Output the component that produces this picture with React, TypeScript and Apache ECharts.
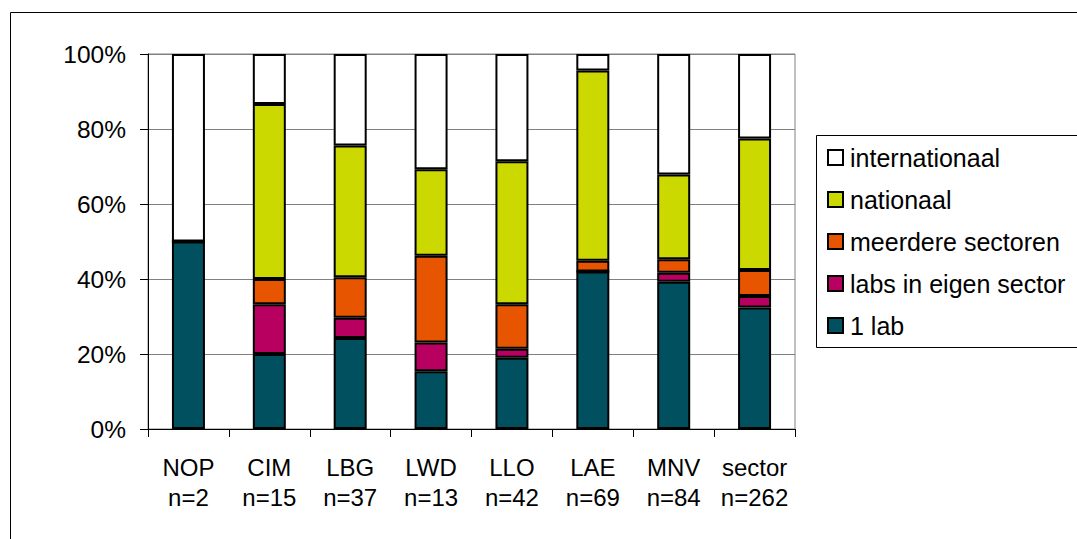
import React, { useEffect, useRef } from "react";
import * as echarts from "echarts";

const categories = ["NOP", "CIM", "LBG", "LWD", "LLO", "LAE", "MNV", "sector"];
const counts = ["n=2", "n=15", "n=37", "n=13", "n=42", "n=69", "n=84", "n=262"];

const oneLab = [50, 20, 24.3, 15.4, 19.0, 42.0, 39.3, 32.4];
const labsEigen = [0, 13.3, 5.4, 7.7, 2.4, 0, 2.4, 3.1];
const meerdere = [0, 6.7, 10.8, 23.1, 11.9, 2.9, 3.6, 6.9];
const nationaal = [0, 46.7, 35.1, 23.1, 38.1, 50.7, 22.6, 35.1];
const internationaal = [50, 13.3, 24.4, 30.7, 28.6, 4.4, 32.1, 22.5];

const yTicks = [0, 20, 40, 60, 80, 100];

const FONT = "'Liberation Sans', Arial, sans-serif";

export default function App() {
  const ref = useRef<HTMLDivElement>(null);
  useEffect(() => {
    document.body.style.margin = "0";
    const chart = echarts.init(ref.current!, undefined, { renderer: "svg" });
    const mk = (name: string, data: number[], color: string) => ({
      name,
      type: "bar",
      stack: "total",
      data,
      barWidth: 33,
      itemStyle: { color, borderColor: "#000", borderWidth: 2 },
    });
    chart.setOption({
      animation: false,
      backgroundColor: "#fff",
      textStyle: { fontFamily: FONT },
      grid: {
        left: 148,
        top: 54,
        width: 647,
        height: 375,
        show: true,
        borderColor: "#808080",
        borderWidth: 1,
      },
      graphic: [
        {
          type: "rect",
          shape: { x: 10.5, y: 12.5, width: 1200, height: 700 },
          style: { fill: "none", stroke: "#000", lineWidth: 1 },
          silent: true,
        },
        {
          type: "rect",
          shape: { x: 816.5, y: 135.5, width: 400, height: 212 },
          style: { fill: "#fff", stroke: "#000", lineWidth: 1 },
          silent: true,
          z: -1,
        },
      ],
      legend: {
        orient: "vertical",
        left: 822,
        top: 137,
        itemWidth: 15,
        itemHeight: 15,
        itemGap: 11,
        icon: "rect",
        data: ["internationaal", "nationaal", "meerdere sectoren", "labs in eigen sector", "1 lab"],
        textStyle: {
          fontSize: 25,
          lineHeight: 25,
          color: "#000",
          fontFamily: FONT,
          padding: [0, 0, 6, 2],
        },
      },
      xAxis: {
        type: "category",
        data: categories.map((c, i) => c + "\n" + counts[i]),
        axisLine: { show: true, lineStyle: { color: "#000", width: 1 } },
        axisTick: { show: true, length: 8, alignWithLabel: false, lineStyle: { color: "#000" } },
        axisLabel: {
          fontSize: 24,
          color: "#000",
          lineHeight: 30,
          margin: 23,
          interval: 0,
          fontFamily: FONT,
        },
      },
      yAxis: {
        type: "value",
        min: 0,
        max: 100,
        interval: 20,
        axisLine: { show: true, lineStyle: { color: "#000", width: 1 } },
        axisTick: { show: true, length: 8, lineStyle: { color: "#000" } },
        axisLabel: {
          fontSize: 24.5,
          color: "#000",
          margin: 22,
          fontFamily: FONT,
          formatter: (v: number) => (yTicks.includes(v) ? v + "%" : ""),
        },
        splitLine: { show: true, lineStyle: { color: "#808080", width: 1 } },
      },
      series: [
        mk("1 lab", oneLab, "#00505F"),
        mk("labs in eigen sector", labsEigen, "#B80060"),
        mk("meerdere sectoren", meerdere, "#E85500"),
        mk("nationaal", nationaal, "#CCD900"),
        mk("internationaal", internationaal, "#FFFFFF"),
      ],
    });
    return () => chart.dispose();
  }, []);
  return <div ref={ref} style={{ width: 1077, height: 539 }} />;
}
